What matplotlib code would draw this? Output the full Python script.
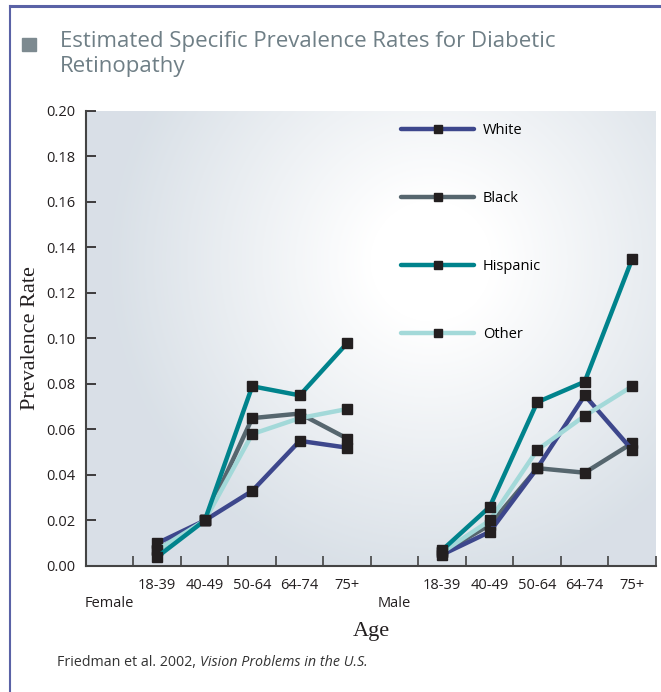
import numpy as np
import matplotlib
matplotlib.use("Agg")
import matplotlib.pyplot as plt
from matplotlib.colors import LinearSegmentedColormap
from matplotlib.lines import Line2D
from matplotlib.patches import Rectangle

# data: female ages then male ages
ages = ["18-39", "40-49", "50-64", "64-74", "75+"]
groups = ["Female", "Male"]
races = ["White", "Black", "Hispanic", "Other"]
white = [0.010, 0.020, 0.033, 0.055, 0.052, 0.005, 0.015, 0.043, 0.075, 0.051]
black = [0.007, 0.020, 0.065, 0.067, 0.056, 0.006, 0.018, 0.043, 0.041, 0.054]
hispanic = [0.004, 0.020, 0.079, 0.075, 0.098, 0.007, 0.026, 0.072, 0.081, 0.135]
other = [0.007, 0.020, 0.058, 0.065, 0.069, 0.006, 0.020, 0.051, 0.066, 0.079]

colors = {"White": "#3d478c", "Black": "#56666e", "Hispanic": "#00838c", "Other": "#a3d9d9"}
zorders = {"White": 3, "Black": 2, "Hispanic": 5, "Other": 4}
values = {"White": white, "Black": black, "Hispanic": hispanic, "Other": other}

plt.rcParams['font.family'] = ['Open Sans', 'DejaVu Sans']

fig = plt.figure(figsize=(6.61, 6.92), dpi=100)
ax = fig.add_axes([0.1301, 0.1821, 0.8623, 0.6575])

# radial gradient background
nx, ny = 570, 455
gx, gy = np.meshgrid(np.arange(nx), np.arange(ny))
d = np.sqrt((gx - 345) ** 2 + (gy - 150) ** 2)
t = np.clip((d - 60) / 260, 0, 1)
cmap = LinearSegmentedColormap.from_list("bg", ["#ffffff", "#d9e0e7"])
ax.imshow(t, extent=(0, 1, 0, 1), transform=ax.transAxes, cmap=cmap,
          vmin=0, vmax=1, aspect="auto", zorder=0, origin="upper")

# positions: slot 0 = Female label, 1-5 ages, slot 6 = Male label, 7-11 ages
pos_f = np.arange(1, 6)
pos_m = np.arange(7, 12)
for r in races:
    v = values[r]
    ax.plot(pos_f, v[:5], color=colors[r], lw=3.2, marker="s", ms=6.5,
            mfc="#231f20", mec="#231f20", zorder=zorders[r], label=r,
            solid_capstyle="round")
    ax.plot(pos_m, v[5:], color=colors[r], lw=3.2, marker="s", ms=6.5,
            mfc="#231f20", mec="#231f20", zorder=zorders[r])

ax.set_xlim(-0.5, 11.5)
ax.set_ylim(0, 0.20)
ax.set_yticks(np.arange(0, 0.201, 0.02))
ax.set_yticklabels([f"{v:.2f}" for v in np.arange(0, 0.201, 0.02)])
ax.set_xticks(np.arange(12))
ax.set_xticklabels(["\n" + groups[0]] + ages + ["\n" + groups[1]] + ages)
ax.set_xticks(np.arange(-0.5, 12, 1), minor=True)
ax.tick_params(axis="x", which="major", length=0, pad=9, labelsize=10.5, colors="#231f20")
ax.tick_params(axis="x", which="minor", length=7, width=1.2, direction="in", color="#444444")
ax.tick_params(axis="y", length=7, width=1.2, direction="in", pad=8, labelsize=10.5,
               colors="#231f20")
for s in ["top", "right"]:
    ax.spines[s].set_visible(False)
for s in ["left", "bottom"]:
    ax.spines[s].set_color("#444444")
    ax.spines[s].set_linewidth(1.5)

ax.set_ylabel("Prevalence Rate", family="Liberation Serif", fontsize=16, labelpad=4, color="#231f20")
ax.set_xlabel("Age", family="Liberation Serif", fontsize=16, labelpad=8, color="#231f20")

leg = ax.legend(loc="upper left", bbox_to_anchor=(0.5325, 1.0), frameon=False, fontsize=10.5,
                handlelength=5.0, labelspacing=3.65, numpoints=1, borderpad=0.3,
                handletextpad=0.6)
for h in leg.legend_handles:
    h.set_markersize(6)

# frame lines and title
fig.add_artist(Line2D([0.0151, 1], [0.9913, 0.9913], color="#5a62a6", lw=2.2))
fig.add_artist(Line2D([0.0151, 0.0151], [0, 0.9913], color="#5a62a6", lw=1.5))
fig.add_artist(Rectangle((0.0333, 0.9263), 0.0212, 0.0188, color="#7d8a90",
                         transform=fig.transFigure))
fig.text(0.0908, 1 - 31 / 692, "Estimated Specific Prevalence Rates for Diabetic\nRetinopathy",
         ha="left", va="top", fontsize=16, color="#6f7f86", linespacing=1.25)

src = fig.text(0.0862, 1 - 663 / 692, "Friedman et al. 2002, ", ha="left", va="center",
               fontsize=10.3, color="#333333")
fig.canvas.draw()
bb = src.get_window_extent()
fig.text(bb.x1 / fig.bbox.width, 1 - 663 / 692, "Vision Problems in the U.S.", ha="left",
         va="center", fontsize=10.3, color="#333333", style="italic")

fig.savefig("out.png", dpi=100)
